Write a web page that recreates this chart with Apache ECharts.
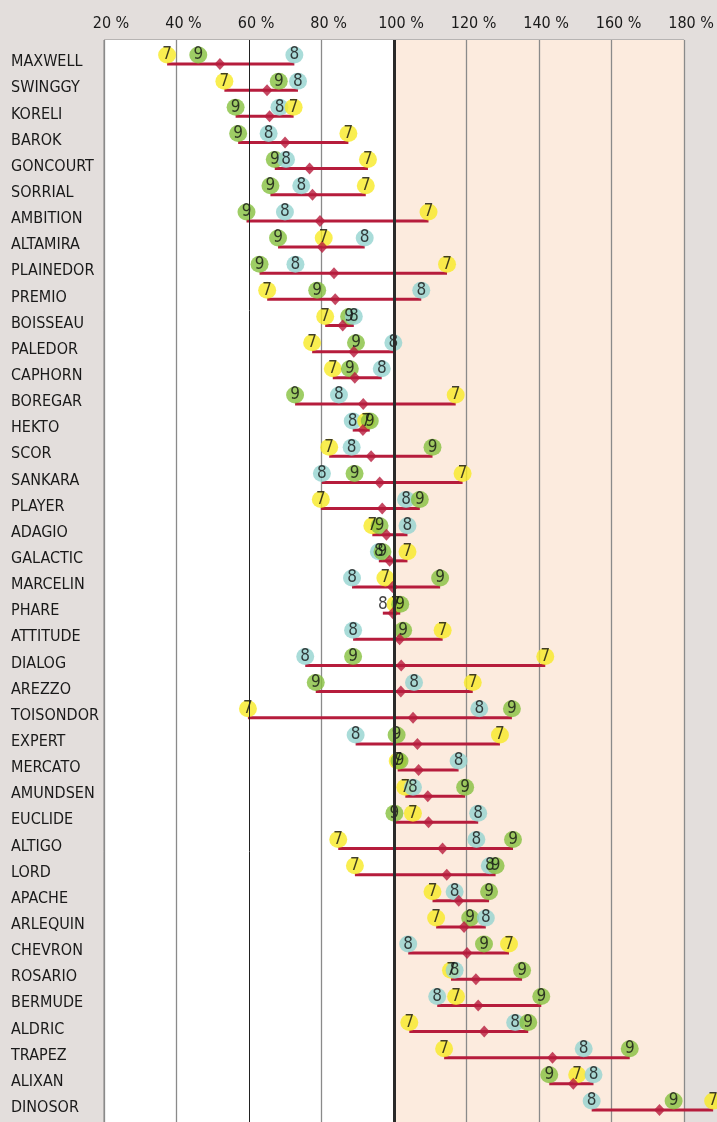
<!DOCTYPE html>
<html>
<head>
<meta charset="utf-8">
<script src="https://cdn.jsdelivr.net/npm/echarts@6/dist/echarts.min.js"></script>
<style>
html,body{margin:0;padding:0;background:#E3DEDC;}
#c{width:717px;height:1122px;}
</style>
</head>
<body>
<div id="c"></div>
<script>
const categories = ['MAXWELL','SWINGGY','KORELI','BAROK','GONCOURT','SORRIAL','AMBITION','ALTAMIRA','PLAINEDOR','PREMIO','BOISSEAU','PALEDOR','CAPHORN','BOREGAR','HEKTO','SCOR','SANKARA','PLAYER','ADAGIO','GALACTIC','MARCELIN','PHARE','ATTITUDE','DIALOG','AREZZO','TOISONDOR','EXPERT','MERCATO','AMUNDSEN','EUCLIDE','ALTIGO','LORD','APACHE','ARLEQUIN','CHEVRON','ROSARIO','BERMUDE','ALDRIC','TRAPEZ','ALIXAN','DINOSOR'];

const values7 = [37.4,53.2,72.3,87.4,92.8,92.2,109.5,80.6,114.6,65.0,81.0,77.4,83.1,117.0,92.3,82.1,118.9,79.8,94.0,103.7,97.6,100.4,113.4,141.7,121.7,59.7,129.2,101.0,103.1,105.2,84.6,89.2,110.6,111.6,131.7,115.7,117.1,104.2,113.8,150.5,188.0];
const values8 = [72.5,73.5,68.4,65.4,70.2,74.4,69.9,91.9,72.8,107.5,88.9,99.8,96.6,84.8,88.6,88.3,80.1,103.3,103.7,95.8,88.4,96.9,88.7,75.5,105.5,123.5,89.4,117.8,105.2,123.2,122.7,126.4,116.7,125.3,103.9,116.7,111.9,133.4,152.3,155.0,154.5];
const values9 = [46.0,68.2,56.3,57.0,67.1,65.9,59.3,68.0,62.9,78.8,87.6,89.5,87.8,72.7,93.3,110.6,89.1,107.1,96.0,96.8,112.7,101.7,102.5,88.7,78.4,132.5,100.7,101.5,119.6,100.1,132.8,128.0,126.2,121.0,124.8,135.3,140.6,137.0,165.0,142.8,177.1];

const tickLabels = ['20 %','40 %','60 %','80 %','100 %','120 %','140 %','160 %','180 %'];
// markers drawn without a circle (label only)
const labelOnly = [{row:'PHARE', grade:'8'}];

const FONT = "'Liberation Sans Narrow','Arial Narrow','DejaVu Sans Condensed',sans-serif";
const gradeColors = {'7':'#F8EA24','8':'#93D3CF','9':'#86C03F'};
const RED = '#B61C3C';

const grades = [['7',values7],['9',values9],['8',values8]];
const points = [];
categories.forEach((c,i)=>{
  grades.forEach(([g,arr])=>{
    const hidden = labelOnly.some(o=>o.row===c && o.grade===g);
    points.push({name:g, value:[arr[i], i], itemStyle:{color: hidden ? 'rgba(0,0,0,0)' : gradeColors[g]}});
  });
});
points.sort((a,b)=>a.value[0]-b.value[0]);

const ranges = categories.map((c,i)=>{
  const v=[values7[i],values8[i],values9[i]];
  return [i, Math.min(...v), Math.max(...v)];
});
const means = categories.map((c,i)=>[(values7[i]+values8[i]+values9[i])/3, i]);

const chart = echarts.init(document.getElementById('c'), null, {renderer:'canvas'});
chart.setOption({
  backgroundColor:'#E3DEDC',
  animation:false,
  grid:[
    {left:104, right:31, top:40, bottom:0, show:true, backgroundColor:'#ffffff', borderColor:'#8a8a8a', borderWidth:1},
    {left:104, right:31, top:49, height:1072, show:false}
  ],
  xAxis:[
    {gridIndex:0, type:'value', position:'top', min:20, max:180, interval:20,
     axisLine:{show:false}, axisTick:{show:false},
     axisLabel:{fontFamily:FONT, fontSize:16, color:'#1a1a1a', margin:8, padding:[0,0,0,14],
       formatter:(v)=>tickLabels[Math.round((v-20)/20)]},
     splitLine:{show:true, lineStyle:{width:1.3, color:['#8a8a8a','#8a8a8a','rgba(0,0,0,0)','#8a8a8a','rgba(0,0,0,0)','#8a8a8a','#8a8a8a','#8a8a8a','#8a8a8a']}},
     splitArea:{show:true, areaStyle:{color:['#ffffff','#ffffff','#ffffff','#ffffff','#FCEBDE','#FCEBDE','#FCEBDE','#FCEBDE']}}
    },
    {gridIndex:1, type:'value', show:false, min:20, max:180}
  ],
  yAxis:[
    {gridIndex:0, type:'value', inverse:true, min:-0.918, max:40.459, show:false},
    {gridIndex:1, type:'category', inverse:true, data:categories,
     axisLine:{show:false}, axisTick:{show:false}, splitLine:{show:false},
     axisLabel:{interval:0, align:'left', margin:93, fontFamily:FONT, fontSize:16, color:'#1a1a1a'}}
  ],
  series:[
    {type:'custom', xAxisIndex:0, yAxisIndex:0, data:ranges, encode:{x:[1,2], y:0}, clip:false, silent:true,
     renderItem:(params, api)=>{
       const y=api.value(0);
       const a=api.coord([api.value(1), y]);
       const b=api.coord([api.value(2), y]);
       return {type:'line', shape:{x1:a[0], y1:a[1], x2:b[0], y2:b[1]}, style:{stroke:RED, lineWidth:3}};
     }},
    {type:'scatter', xAxisIndex:0, yAxisIndex:0, data:points, clip:false, silent:true,
     symbol:'circle', symbolSize:[18,17], symbolOffset:[0,-9],
     label:{show:true, position:'inside', formatter:'{b}', fontFamily:FONT, fontSize:17, color:'#111'}},
    {type:'scatter', xAxisIndex:0, yAxisIndex:0, data:means, clip:false, silent:true,
     symbol:'diamond', symbolSize:[11,12], itemStyle:{color:RED},
     markLine:{silent:true, symbol:'none', label:{show:false},
       data:[
         {xAxis:100, lineStyle:{color:'#2a2a2a', width:3, type:'solid'}},
         {xAxis:60, lineStyle:{color:'#222', width:1, type:'solid'}}
       ]}}
  ]
});
</script>
</body>
</html>
